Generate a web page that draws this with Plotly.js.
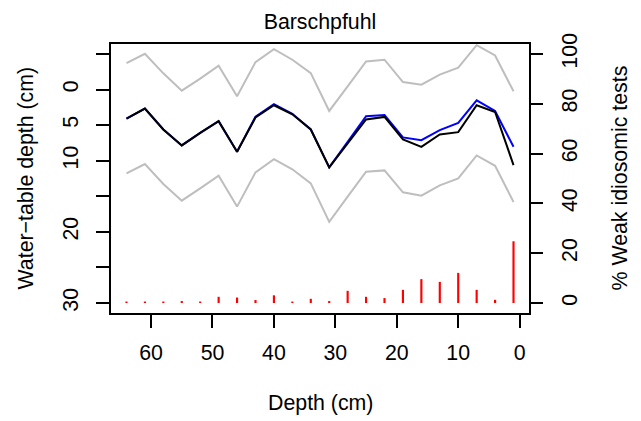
<!DOCTYPE html>
<html>
<head>
<meta charset="utf-8">
<script src="https://cdn.plot.ly/plotly-3.0.1.min.js"></script>
<style>html,body{margin:0;padding:0;background:#fff;}#chart{width:641px;height:421px;}</style>
</head>
<body>
<div id="chart"></div>
<script>
var depth = [64, 61, 58, 55, 52, 49, 46, 43, 40, 37, 34, 31, 28, 25, 22, 19, 16, 13, 10, 7, 4, 1];
var wtObserved = [4.07, 2.67, 5.61, 7.85, 6.09, 4.45, 8.75, 3.93, 2.21, 3.47, 5.61, 10.93, 7.57, 4.21, 3.85, 7.01, 8.05, 6.31, 5.99, 2.21, 3.15, 10.61];
var wtBlue = [4.07, 2.67, 5.61, 7.85, 6.09, 4.45, 8.75, 3.8, 2.05, 3.4, 5.61, 10.93, 7.35, 3.75, 3.57, 6.73, 7.11, 5.71, 4.69, 1.51, 3.01, 8.05];
var wtUpper = [-3.71, -5.03, -2.28, 0.15, -1.53, -3.35, 0.95, -3.85, -5.67, -4.19, -2.31, 3.01, -0.45, -3.95, -4.19, -1.05, -0.69, -2.09, -3.07, -6.23, -4.79, 0.25];
var wtLower = [11.78, 10.47, 13.28, 15.61, 13.88, 12.11, 16.45, 11.64, 9.77, 11.21, 13.18, 18.6, 15.05, 11.55, 11.36, 14.44, 14.91, 13.46, 12.48, 9.26, 10.71, 15.8];
var weakPct = [0.6, 0.6, 0.6, 0.8, 0.6, 2.5, 2.2, 1.2, 3.1, 0.6, 1.7, 0.8, 4.9, 2.5, 2.0, 5.3, 9.6, 8.5, 12.1, 5.3, 1.3, 24.8];

var xTicks = [60, 50, 40, 30, 20, 10, 0];
var yTicks = [-5, 0, 5, 10, 15, 20, 25, 30];
var yTickText = ['', '0', '5', '10', '', '20', '', '30'];
var y2Ticks = [0, 20, 40, 60, 80, 100];

var FONT = 'Liberation Sans, Arial, Helvetica, sans-serif';
var FS = 21.33;

var traces = [
  {x: depth, y: wtUpper, type: 'scatter', mode: 'lines', line: {color: '#BEBEBE', width: 2}, yaxis: 'y'},
  {x: depth, y: wtLower, type: 'scatter', mode: 'lines', line: {color: '#BEBEBE', width: 2}, yaxis: 'y'},
  {x: depth, y: wtBlue, type: 'scatter', mode: 'lines', line: {color: '#0000FF', width: 2}, yaxis: 'y'},
  {x: depth, y: wtObserved, type: 'scatter', mode: 'lines', line: {color: '#000000', width: 2}, yaxis: 'y'},
  {x: depth, y: weakPct, type: 'bar', width: 0.35, marker: {color: '#FF0000', line: {width: 0}}, yaxis: 'y2'}
];

var axisCommon = {
  ticks: 'outside', ticklen: 13, tickwidth: 2, tickcolor: '#000',
  showgrid: false, zeroline: false,
  tickfont: {family: FONT, size: FS, color: '#000'}
};

var layout = {
  width: 641, height: 421,
  margin: {l: 111, r: 112, t: 43.5, b: 107.5, pad: 0},
  paper_bgcolor: '#fff', plot_bgcolor: '#fff',
  showlegend: false,
  font: {family: FONT, size: FS, color: '#000'},
  title: {text: 'Barschpfuhl', font: {family: FONT, size: FS, color: '#000'}, x: 0.5, xref: 'paper', y: 1 - 22/421, yref: 'container', yanchor: 'middle'},
  xaxis: Object.assign({}, axisCommon, {
    range: [66.52, -1.52], tickmode: 'array', tickvals: xTicks,
    showline: true, linewidth: 2, linecolor: '#000', mirror: true,
    ticklabelstandoff: 6
  }),
  yaxis: Object.assign({}, axisCommon, {
    range: [31.4, -6.4], tickmode: 'array', tickvals: yTicks, ticktext: yTickText,
    tickangle: -90, showline: true, linewidth: 2, linecolor: '#000', mirror: true,
    ticklabelstandoff: 9
  }),
  yaxis2: Object.assign({}, axisCommon, {
    range: [-4, 104], tickmode: 'array', tickvals: y2Ticks,
    tickangle: -90, overlaying: 'y', side: 'right', showline: false,
    ticklabelstandoff: 8
  }),
  annotations: [
    {text: 'Depth (cm)', xref: 'paper', yref: 'paper', x: 0.5, y: (313.5 - 404) / 270, xanchor: 'center', yanchor: 'middle', showarrow: false, font: {family: FONT, size: FS, color: '#000'}},
    {text: 'Water\u2212table depth (cm)', xref: 'paper', yref: 'paper', x: (25 - 111) / 418, y: 0.5, xanchor: 'center', yanchor: 'middle', textangle: -90, showarrow: false, font: {family: FONT, size: FS, color: '#000'}},
    {text: '% Weak idiosomic tests', xref: 'paper', yref: 'paper', x: (619 - 111) / 418, y: 0.5, xanchor: 'center', yanchor: 'middle', textangle: -90, showarrow: false, font: {family: FONT, size: FS, color: '#000'}}
  ]
};

Plotly.newPlot('chart', traces, layout, {staticPlot: true, displayModeBar: false});
</script>
</body>
</html>
